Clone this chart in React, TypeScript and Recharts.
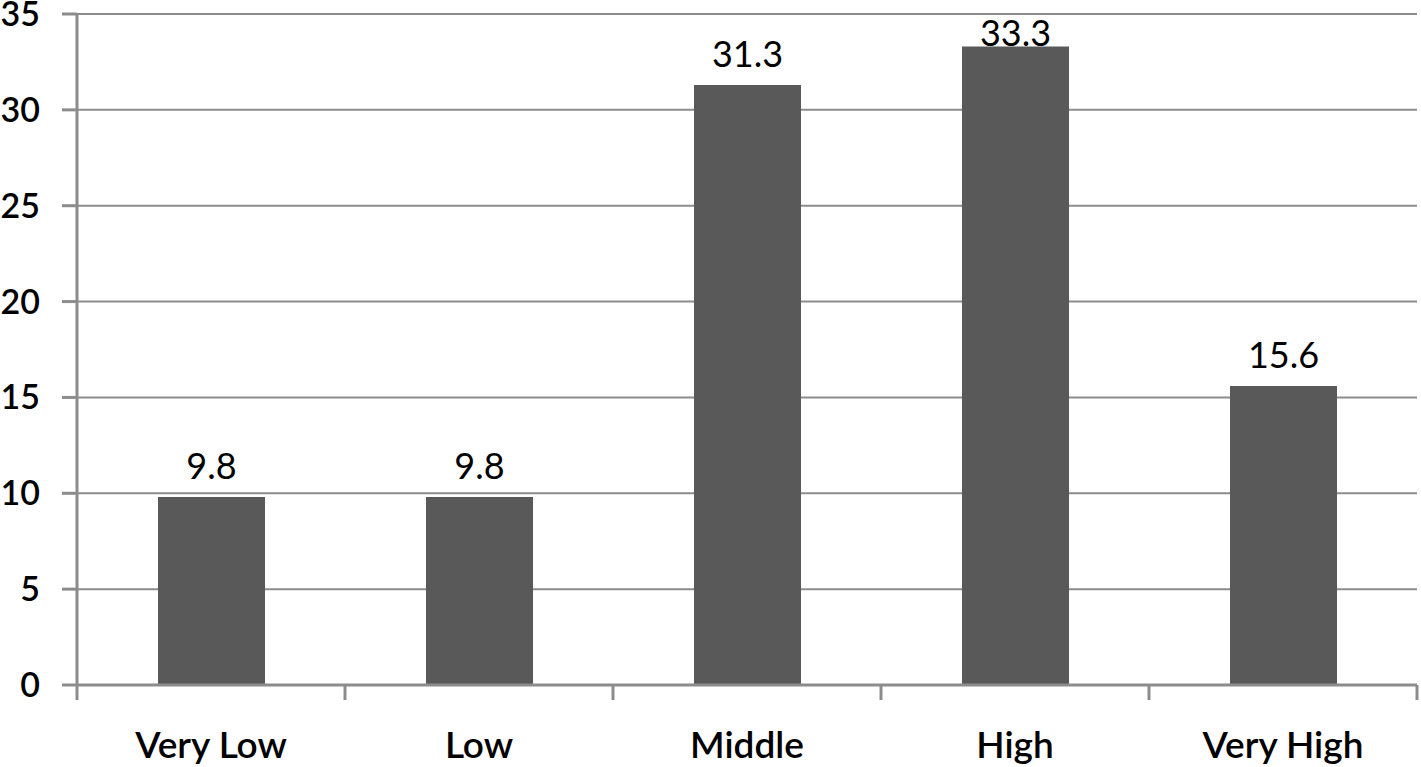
import React from 'react';
import { BarChart, Bar, XAxis, YAxis, CartesianGrid, LabelList } from 'recharts';

const categories = ['Very Low', 'Low', 'Middle', 'High', 'Very High'];
const values = [9.8, 9.8, 31.3, 33.3, 15.6];
const yTicks = [0, 5, 10, 15, 20, 25, 30, 35];
const boundaryTicks = [0, 1, 2, 3, 4, 5];

const data = categories.map((name, i) => ({ name, value: values[i], pos: i + 0.5 }));

const FONT = 'Lato, "Open Sans", sans-serif';
const GRID = '#8c8c8c';

// Excel pushes the label down inside the plot when it would go past the top
const renderLabel = (props: any) => {
  const { x, y, width, value } = props;
  const ty = Math.max(y - 18, 46);
  return (
    <text x={x + width / 2} y={ty} textAnchor="middle" fontFamily={FONT} fontSize={36} fill="#000">
      {value}
    </text>
  );
};

// short tick mark below the axis at each category boundary
const BoundaryTick = (props: any) => {
  const { x, y } = props;
  return <line x1={x} x2={x} y1={y} y2={y + 15} stroke={GRID} strokeWidth={3} />;
};

const App: React.FC = () => {
  return (
    <div style={{ position: 'absolute', left: 0, top: 0, width: 1421, height: 767, background: '#fff' }}>
      <BarChart
        width={1421}
        height={767}
        data={data}
        margin={{ top: 14, right: 4, left: 0, bottom: 0 }}
      >
        <CartesianGrid vertical={false} stroke={GRID} strokeWidth={2} xAxisId="b" />
        {/* category boundary ticks, like Excel (inner axis) */}
        <XAxis
          xAxisId="a"
          dataKey="pos"
          type="number"
          domain={[0, 5]}
          allowDataOverflow
          ticks={boundaryTicks}
          interval={0}
          height={1}
          tick={<BoundaryTick />}
          tickLine={false}
          tickSize={0}
          tickMargin={0}
          axisLine={{ stroke: GRID, strokeWidth: 3 }}
        />
        <XAxis
          xAxisId="b"
          dataKey="name"
          height={81}
          axisLine={false}
          tickLine={false}
          tickSize={0}
          tickMargin={46}
          tick={{ fontFamily: FONT, fontSize: 37, fontWeight: 600, fill: '#000' }}
          interval={0}
        />
        <YAxis
          domain={[0, 35]}
          ticks={yTicks}
          width={77}
          axisLine={{ stroke: GRID, strokeWidth: 3 }}
          tickLine={{ stroke: GRID, strokeWidth: 3 }}
          tickSize={15}
          tickMargin={22}
          tick={{ fontFamily: FONT, fontSize: 34, fontWeight: 600, fill: '#000' }}
          interval={0}
        />
        <Bar dataKey="value" xAxisId="b" fill="#595959" barSize={107} isAnimationActive={false}>
          <LabelList dataKey="value" content={renderLabel} />
        </Bar>
      </BarChart>
    </div>
  );
};

export default App;
